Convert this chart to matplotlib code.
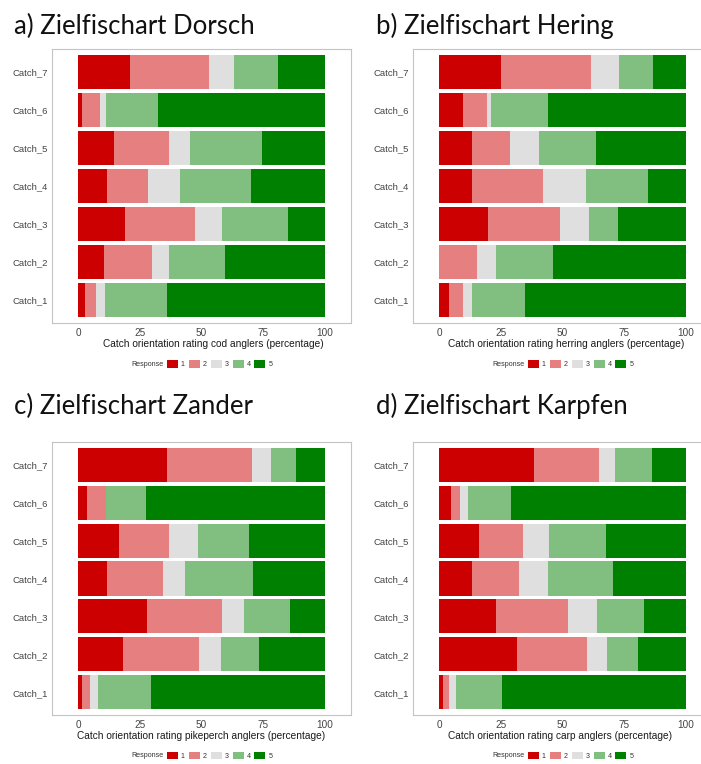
import matplotlib
matplotlib.use("Agg")
import matplotlib.pyplot as plt
from matplotlib.patches import Patch
import numpy as np

# rows are Catch_1 ... Catch_7, columns are responses 1 ... 5 (percent)
catches = ["Catch_1", "Catch_2", "Catch_3", "Catch_4", "Catch_5", "Catch_6", "Catch_7"]
responses = ["1", "2", "3", "4", "5"]
colors = ["#CC0000", "#E68080", "#DFDFDF", "#80BF80", "#008000"]

cod = [[2.8, 4.5, 3.4, 25.4, 63.9],
       [10.3, 19.8, 6.8, 22.8, 40.3],
       [18.8, 28.4, 11.3, 26.6, 14.9],
       [11.5, 16.9, 13.0, 28.6, 30.0],
       [14.7, 22.3, 8.5, 29.1, 25.4],
       [1.4, 7.5, 2.3, 21.1, 67.7],
       [21.2, 31.8, 10.1, 18.1, 18.8]]

herring = [[3.9, 5.8, 3.8, 21.2, 65.3],
           [0.0, 15.2, 7.9, 23.1, 53.8],
           [19.7, 29.3, 11.9, 11.6, 27.5],
           [13.5, 28.7, 17.4, 25.1, 15.3],
           [13.5, 15.4, 11.6, 23.1, 36.4],
           [9.7, 9.6, 1.6, 23.4, 55.7],
           [25.1, 36.6, 11.3, 13.5, 13.5]]

pikeperch = [[1.5, 3.5, 3.2, 21.5, 70.3],
             [18.0, 31.1, 8.9, 15.4, 26.6],
             [27.8, 30.4, 9.1, 18.5, 14.2],
             [11.6, 22.7, 9.2, 27.2, 29.3],
             [16.4, 20.5, 11.5, 20.8, 30.8],
             [3.5, 7.7, 0.0, 16.4, 72.4],
             [36.2, 34.3, 7.5, 10.2, 11.8]]

carp = [[1.5, 2.5, 3.0, 18.5, 74.5],
        [31.4, 28.4, 8.4, 12.5, 19.3],
        [23.1, 29.0, 11.7, 19.2, 17.0],
        [13.4, 19.1, 11.6, 26.3, 29.6],
        [16.3, 17.6, 10.6, 23.2, 32.3],
        [4.7, 3.9, 3.0, 17.4, 71.0],
        [38.3, 26.3, 6.7, 14.8, 13.9]]

titles = ["a) Zielfischart Dorsch", "b) Zielfischart Hering",
          "c) Zielfischart Zander", "d) Zielfischart Karpfen"]
xlabels = ["Catch orientation rating cod anglers (percentage)",
           "Catch orientation rating herring anglers (percentage)",
           "Catch orientation rating pikeperch anglers (percentage)",
           "Catch orientation rating carp anglers (percentage)"]

W, H = 701, 764
fig = plt.figure(figsize=(W / 100, H / 100), dpi=100)
plt.rcParams['font.family'] = ['Liberation Sans', 'DejaVu Sans']


def draw_panel(left, top, bottom, data, title, xlabel, label_x, title_x, title_y):
    ax_w = 299
    ax = fig.add_axes([left / W, 1 - bottom / H, ax_w / W, (bottom - top) / H])
    data = np.array(data)
    y = np.arange(1, len(catches) + 1)
    start = np.zeros(len(catches))
    for j in range(len(responses)):
        ax.barh(y, data[:, j], left=start, height=0.9, color=colors[j], linewidth=0)
        start += data[:, j]
    ax.set_xlim(-10.6, 110.6)
    ax.set_ylim(0.4, 7.6)
    ax.set_yticks(y)
    ax.set_yticklabels(catches)
    ax.set_xticks([0, 25, 50, 75, 100])
    ax.tick_params(axis='both', length=0, labelcolor='#444444')
    ax.tick_params(axis='y', pad=2.9, labelsize=6.8)
    ax.tick_params(axis='x', pad=3.4, labelsize=7.2)
    for s in ax.spines.values():
        s.set_color('#C4C4C4')
        s.set_linewidth(0.8)
    ax.text(label_x, -0.078, xlabel, transform=ax.transAxes, ha='center', va='center',
            fontsize=7.3, color='#1A1A1A')

    # legend row below the axis title
    handles = [Patch(facecolor=c, edgecolor='none') for c in colors]
    ax.legend(handles, responses, ncol=5, frameon=False, fontsize=5.1,
              loc='center left', bbox_to_anchor=(0.384, -0.150),
              borderpad=0, borderaxespad=0, handlelength=1.55, handleheight=1.27,
              handletextpad=0.42, columnspacing=0.56, labelcolor='#333333')
    ax.text(0.372, -0.150, "Response", transform=ax.transAxes, ha='right', va='center',
            fontsize=5.1, color='#333333')

    fig.text(title_x / W, 1 - title_y / H, title, family=['Lato', 'DejaVu Sans'],
             fontsize=18.5, color='#111111', ha='left', va='baseline')
    return ax


draw_panel(52, 49, 323, cod, titles[0], xlabels[0], 0.540, 14, 34)
draw_panel(413, 49, 323, herring, titles[1], xlabels[1], 0.512, 376, 34)
draw_panel(52, 442, 715, pikeperch, titles[2], xlabels[2], 0.500, 14, 414)
draw_panel(413, 442, 715, carp, titles[3], xlabels[3], 0.491, 376, 414)

fig.savefig("out.png", dpi=100)
